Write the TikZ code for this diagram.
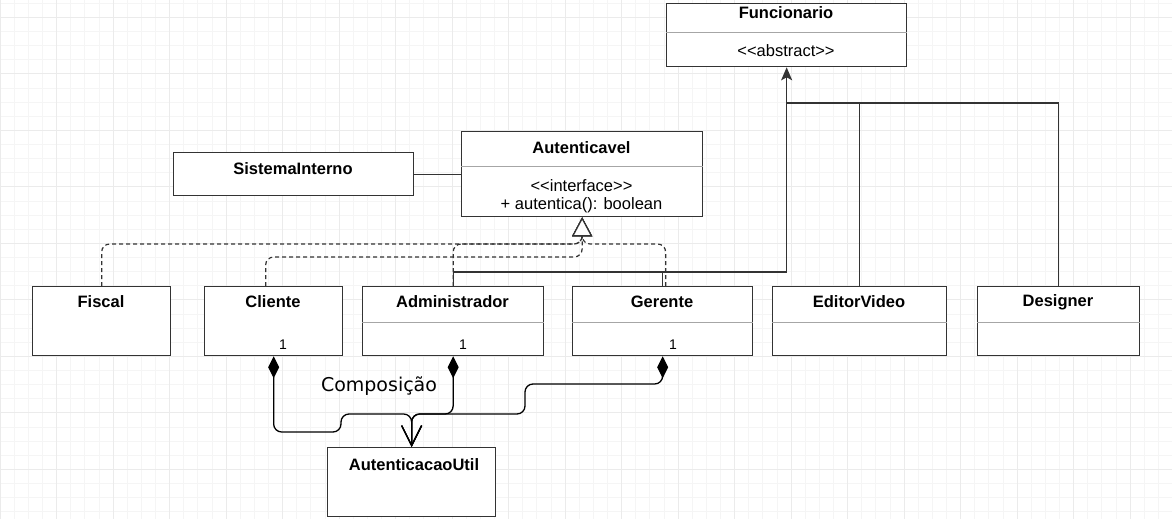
\documentclass[tikz,border=0pt]{standalone}
\usepackage{fontspec}
\setmainfont{Liberation Sans}
\newfontfamily\labelfont{DejaVu Sans}
\usetikzlibrary{arrows.meta,positioning}

\tikzset{
        classbox/.style={draw=black!80, line width=1.3pt, fill=white, anchor=north west, inner sep=0pt},
        classname/.style={font=\bfseries\fontsize{16.5}{18}\selectfont},
        classtext/.style={font=\fontsize{16.5}{18}\selectfont},
        sepline/.style={draw=black!35, line width=0.8pt},
        mult/.style={font=\fontsize{14}{16}\selectfont},
        inherit/.style={draw=black!80, line width=1.3pt},
        realize/.style={draw=black!80, line width=1.2pt, dash pattern=on 4pt off 3pt, rounded corners=8pt},
        compose/.style={draw=black, line width=1.3pt, rounded corners=8pt},
        gridminor/.style={draw=black!4, line width=0.6pt},
        gridmajor/.style={draw=black!8, line width=0.7pt}
}

\begin{document}
\begin{tikzpicture}[x=1pt, y=-1pt]
        \useasboundingbox (0,0) rectangle (1172,519);
        \fill[white] (0,0) rectangle (1172,519);

        \foreach \gx in {0,...,83} \draw[gridminor] (\gx*14.125,0) -- (\gx*14.125,519);
        \foreach \gy in {0,...,36} \draw[gridminor] (0,3.1+\gy*14.125) -- (1172,3.1+\gy*14.125);
        \foreach \gx in {0,...,20} \draw[gridmajor] (\gx*56.5,0) -- (\gx*56.5,519);
        \foreach \gy in {0,...,9} \draw[gridmajor] (0,17.2+\gy*56.5) -- (1172,17.2+\gy*56.5);

        \node[classbox, minimum width=240pt, minimum height=63pt] (funcionario) at (666,3) {};
        \draw[sepline] ([yshift=-29pt]funcionario.north west) -- ([yshift=-29pt]funcionario.north east);
        \node[classname] (funcionarioname) at (786,13) {Funcionario};
        \node[classtext] (funcionariotipo) at (786,51) {<{}<abstract>{}>};

        \node[classbox, minimum width=241pt, minimum height=85pt] (autenticavel) at (461,131) {};
        \draw[sepline] ([yshift=-35pt]autenticavel.north west) -- ([yshift=-35pt]autenticavel.north east);
        \node[classname] (autenticavelname) at (581.5,148) {Autenticavel};
        \node[classtext] (autenticaveltipo) at (581.5,186) {<{}<interface>{}>};
        \node[classtext] (autenticavelmetodo) at (581.5,205) {+ autentica(): boolean};

        \node[classbox, minimum width=240pt, minimum height=43pt] (sistema) at (173,152) {};
        \node[classname] (sistemaname) at (293,169) {SistemaInterno};

        \node[classbox, minimum width=138pt, minimum height=69pt] (fiscal) at (32,286) {};
        \node[classname] (fiscalname) at (101,302) {Fiscal};

        \node[classbox, minimum width=138pt, minimum height=69pt] (cliente) at (204,286) {};
        \node[classname] (clientename) at (273,302) {Cliente};
        \node[mult] (clientemult) at (283,345) {1};

        \node[classbox, minimum width=181pt, minimum height=69pt] (administrador) at (362,286) {};
        \draw[sepline] ([yshift=-36pt]administrador.north west) -- ([yshift=-36pt]administrador.north east);
        \node[classname] (administradorname) at (452.5,302) {Administrador};
        \node[mult] (administradormult) at (463,345) {1};

        \node[classbox, minimum width=180pt, minimum height=69pt] (gerente) at (572,286) {};
        \draw[sepline] ([yshift=-36pt]gerente.north west) -- ([yshift=-36pt]gerente.north east);
        \node[classname] (gerentename) at (662,302) {Gerente};
        \node[mult] (gerentemult) at (673,345) {1};

        \node[classbox, minimum width=174pt, minimum height=69pt] (editor) at (772,286) {};
        \draw[sepline] ([yshift=-36pt]editor.north west) -- ([yshift=-36pt]editor.north east);
        \node[classname] (editorname) at (859,302) {EditorVideo};

        \node[classbox, minimum width=162pt, minimum height=69pt] (designer) at (977,286) {};
        \draw[sepline] ([yshift=-36pt]designer.north west) -- ([yshift=-36pt]designer.north east);
        \node[classname] (designername) at (1058,302) {Designer};

        \node[classbox, minimum width=168pt, minimum height=69pt] (autenticacao) at (327,447) {};
        \node[classname] (autenticacaoname) at (414,465) {AutenticacaoUtil};

        \node[font=\labelfont\fontsize{19}{21}\selectfont] (composicaolabel) at (379,386) {Composição};

        \draw[inherit] (sistema.east) -- (autenticavel.west);

        \coordinate (juncao) at (funcionario.south |- 0,103);
        \draw[inherit, -{Stealth[length=13pt,width=11pt,inset=3pt]}] (administrador.north) -- ++(0,-14) -| (funcionario.south);
        \draw[inherit] (gerente.north) -- ++(0,-14);
        \draw[inherit] (editor.north) |- (juncao);
        \draw[inherit] (designer.north) |- (juncao);

        \coordinate (realizacao) at (autenticavel.south |- 0,244);
        \draw[realize, -{Triangle[open,fill=white,length=19pt,width=20pt]}] (fiscal.north) |- (realizacao) -- (autenticavel.south);
        \draw[realize, -{Triangle[open,fill=white,length=19pt,width=20pt]}] ([xshift=-8pt]cliente.north) |- ([yshift=-13pt]realizacao) -- (autenticavel.south);
        \draw[realize, -{Triangle[open,fill=white,length=19pt,width=20pt]}] (administrador.north) |- (realizacao) -- (autenticavel.south);
        \draw[realize, -{Triangle[open,fill=white,length=19pt,width=20pt]}] ([xshift=3pt]gerente.north) |- (realizacao) -- (autenticavel.south);

        \coordinate (composicao) at (autenticacao.north |- 0,414);
        \draw[compose, {Diamond[length=22pt,width=11pt]}-{Straight Barb[length=20pt,width=20pt]}] (cliente.south) |- (341,432) |- (composicao) -- (autenticacao.north);
        \draw[compose, {Diamond[length=22pt,width=11pt]}-{Straight Barb[length=20pt,width=20pt]}] (administrador.south) |- (composicao) -- (autenticacao.north);
        \draw[compose, {Diamond[length=22pt,width=11pt]}-{Straight Barb[length=20pt,width=20pt]}] (gerente.south) |- (525,384) |- (composicao) -- (autenticacao.north);

\end{tikzpicture}
\end{document}
